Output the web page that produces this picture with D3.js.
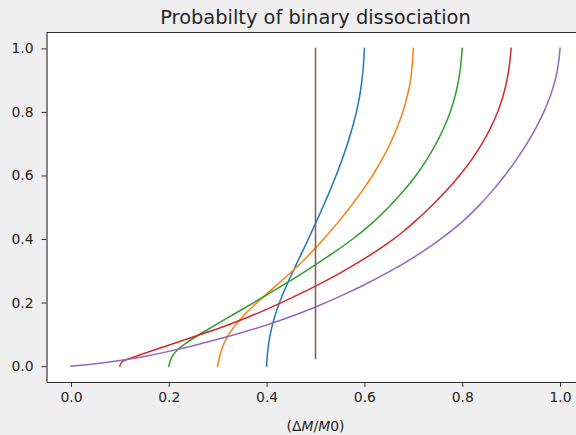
<!DOCTYPE html>
<html>
<head>
<meta charset="utf-8">
<script src="https://cdn.jsdelivr.net/npm/d3@7"></script>
<style>
  html, body { margin: 0; padding: 0; background: #efefef; }
  svg { display: block; }
  text { font-family: "DejaVu Sans", sans-serif; fill: #262626; }
</style>
</head>
<body>
<svg id="chart" width="576" height="435"></svg>
<script>
// Tick values shared by both axes
const tickValues = [0.0, 0.2, 0.4, 0.6, 0.8, 1.0];

// Probability levels used by the steeper curves
const probGrid = [0.00, 0.05, 0.10, 0.15, 0.20, 0.25, 0.30, 0.35, 0.40, 0.45, 0.50,
                  0.55, 0.60, 0.65, 0.70, 0.75, 0.80, 0.85, 0.90, 0.95, 1.00];

// Each curve: mass ratio ΔM/M0 (x) and probability (y)
const blueMass = [0.400, 0.402, 0.407, 0.415, 0.426, 0.4395, 0.4545, 0.470, 0.4855, 0.5005, 0.515,
                  0.529, 0.5423, 0.5546, 0.5656, 0.5755, 0.584, 0.5905, 0.5953, 0.5985, 0.600];
const blueProb = probGrid;

const orangeMass = [0.300, 0.306, 0.321, 0.346, 0.380, 0.417, 0.454, 0.487, 0.517, 0.545, 0.571,
                    0.595, 0.617, 0.636, 0.653, 0.667, 0.679, 0.688, 0.695, 0.698, 0.700];
const orangeProb = probGrid;

const greenMass = [0.200, 0.204, 0.215, 0.237, 0.263, 0.318, 0.374, 0.429, 0.481, 0.531, 0.577, 0.617,
                   0.650, 0.680, 0.706, 0.728, 0.747, 0.763, 0.776, 0.786, 0.793, 0.7975, 0.800];
const greenProb = [0.000, 0.025, 0.050, 0.075, 0.100, 0.150, 0.200, 0.250, 0.300, 0.350, 0.400, 0.450,
                   0.500, 0.550, 0.600, 0.650, 0.700, 0.750, 0.800, 0.850, 0.900, 0.950, 1.000];

const redMass = [0.100, 0.1015, 0.104, 0.109, 0.120, 0.150, 0.175, 0.200, 0.250, 0.300, 0.350, 0.400,
                 0.450, 0.500, 0.550, 0.600, 0.650, 0.676, 0.700, 0.735, 0.767, 0.795, 0.820, 0.841,
                 0.8585, 0.873, 0.884, 0.892, 0.897, 0.900];
const redProb = [0.000, 0.008, 0.013, 0.018, 0.024, 0.040, 0.053, 0.066, 0.092, 0.117, 0.146, 0.178,
                 0.2135, 0.251, 0.292, 0.337, 0.388, 0.419, 0.450, 0.500, 0.550, 0.600, 0.650, 0.700,
                 0.750, 0.800, 0.850, 0.900, 0.950, 1.000];

const purpleMass = [0.000, 0.050, 0.100, 0.150, 0.200, 0.250, 0.300, 0.350, 0.400, 0.450, 0.500, 0.550,
                    0.600, 0.650, 0.700, 0.750, 0.800, 0.8317, 0.8611, 0.8875, 0.9112, 0.9325, 0.9512,
                    0.9673, 0.9806, 0.9906, 0.997, 1.000];
const purpleProb = [0.000, 0.007, 0.017, 0.030, 0.046, 0.064, 0.084, 0.1055, 0.129, 0.1555, 0.1855, 0.219,
                    0.2555, 0.2955, 0.3405, 0.392, 0.452, 0.500, 0.550, 0.600, 0.650, 0.700, 0.750,
                    0.800, 0.850, 0.900, 0.950, 1.000];

const brownMass = [0.500, 0.500];
const brownProb = [0.024, 1.000];

const seriesColors = ["#1f77b4", "#ff7f0e", "#2ca02c", "#d62728", "#9467bd", "#8c564b"];
const seriesMass = [blueMass, orangeMass, greenMass, redMass, purpleMass, brownMass];
const seriesProb = [blueProb, orangeProb, greenProb, redProb, purpleProb, brownProb];

const svg = d3.select("#chart");
const W = 576, H = 435;
const plot = { left: 46.5, right: 584.5, top: 32.5, bottom: 382 };

svg.append("rect").attr("width", W).attr("height", H).attr("fill", "#efefef");
svg.append("rect")
  .attr("x", plot.left).attr("y", plot.top)
  .attr("width", plot.right - plot.left).attr("height", plot.bottom - plot.top)
  .attr("fill", "#ffffff");

const x = d3.scaleLinear().domain([-0.05, 1.05]).range([plot.left, plot.right]);
const y = d3.scaleLinear().domain([-0.05, 1.05]).range([plot.bottom, plot.top]);

const line = d3.line()
  .x(d => x(d[0]))
  .y(d => y(d[1]))
  .curve(d3.curveBasis);

const curves = svg.append("g");
seriesMass.forEach((xs, i) => {
  const pts = xs.map((v, j) => [v, seriesProb[i][j]]);
  curves.append("path")
    .attr("d", line(pts))
    .attr("fill", "none")
    .attr("stroke", seriesColors[i])
    .attr("stroke-width", 1.5)
    .attr("stroke-linejoin", "round")
    .attr("stroke-linecap", "square");
});

const fmt = d3.format(".1f");

const xAxis = svg.append("g")
  .attr("transform", `translate(0,${plot.bottom})`)
  .call(d3.axisBottom(x).tickValues(tickValues).tickFormat(fmt).tickSize(4.9).tickSizeOuter(0).tickPadding(4.9));
const yAxis = svg.append("g")
  .attr("transform", `translate(${plot.left},0)`)
  .call(d3.axisLeft(y).tickValues(tickValues).tickFormat(fmt).tickSize(4.9).tickSizeOuter(0).tickPadding(8));

[xAxis, yAxis].forEach(g => {
  g.attr("font-family", "DejaVu Sans, sans-serif").attr("font-size", 13.9);
  g.select(".domain").attr("stroke", "#333").attr("stroke-width", 1.2);
  g.selectAll(".tick line").attr("stroke", "#333").attr("stroke-width", 1);
  g.selectAll(".tick text").attr("fill", "#262626");
});

// top spine
svg.append("line")
  .attr("x1", plot.left).attr("x2", plot.right)
  .attr("y1", plot.top).attr("y2", plot.top)
  .attr("stroke", "#333").attr("stroke-width", 1.2);

// title
svg.append("text")
  .attr("x", (plot.left + plot.right) / 2)
  .attr("y", 24)
  .attr("text-anchor", "middle")
  .attr("font-size", 19.4)
  .text("Probabilty of binary dissociation");

// x label in math style: (ΔM/M0)
const xl = svg.append("text")
  .attr("x", (plot.left + plot.right) / 2)
  .attr("y", 431)
  .attr("text-anchor", "middle")
  .attr("font-size", 13.9);
xl.append("tspan").text("(Δ");
xl.append("tspan").attr("font-style", "italic").text("M");
xl.append("tspan").text("/");
xl.append("tspan").attr("font-style", "italic").text("M");
xl.append("tspan").text("0)");
</script>
</body>
</html>
